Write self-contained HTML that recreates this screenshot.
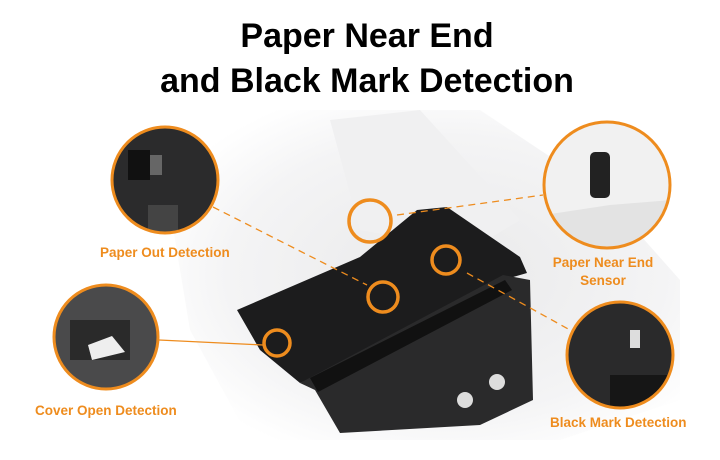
<!DOCTYPE html>
<html><head><meta charset="utf-8"><style>
html,body{margin:0;padding:0;background:#fff;}
body{width:720px;height:460px;overflow:hidden;position:relative;font-family:"Liberation Sans",sans-serif;}
.t{position:absolute;left:0;width:734px;text-align:center;font-weight:bold;font-size:34px;color:#000;}
.l{position:absolute;color:#ee8c1e;font-weight:bold;font-size:13.5px;white-space:nowrap;}
</style></head><body>
<svg width="720" height="460" style="position:absolute;left:0;top:0">
<defs>
<radialGradient id="bg" cx="0.55" cy="0.5" r="0.6"><stop offset="0" stop-color="#e9e9ea"/><stop offset="0.7" stop-color="#f4f4f5"/><stop offset="1" stop-color="#fff"/></radialGradient>
<clipPath id="c1"><circle cx="165" cy="180" r="53"/></clipPath>
<clipPath id="c2"><circle cx="106" cy="337" r="52"/></clipPath>
<clipPath id="c3"><circle cx="607" cy="185" r="63"/></clipPath>
<clipPath id="c4"><circle cx="620" cy="355" r="53"/></clipPath>
</defs>
<polygon points="160,150 260,110 480,110 600,190 680,280 680,400 560,440 250,440 190,330" fill="url(#bg)"/>
<polygon points="330,120 420,110 520,220 470,250 360,230" fill="#f0f0f1"/>
<polygon points="237,310 360,257 417,210 447,207 520,257 527,273 503,280 330,370 300,383 260,350" fill="#1c1c1d"/>
<polygon points="300,383 503,275 530,280 533,400 480,425 340,433 315,390" fill="#2a2a2b"/>
<polygon points="310,378 505,280 512,290 318,392" fill="#111"/>
<circle cx="497" cy="382" r="8" fill="#ddd"/><circle cx="465" cy="400" r="8" fill="#ddd"/>
<g stroke="#ee8c1e" stroke-width="1.3" fill="none">
<line x1="213" y1="207" x2="367" y2="285" stroke-dasharray="7,5"/>
<line x1="397" y1="215" x2="543" y2="195" stroke-dasharray="7,5"/>
<line x1="467" y1="273" x2="570" y2="330" stroke-dasharray="7,5"/>
<line x1="159" y1="340" x2="263" y2="345"/>
</g>
<g stroke="#ee8c1e" stroke-width="3.5" fill="none">
<circle cx="370" cy="221" r="21"/>
<circle cx="446" cy="260" r="14"/>
<circle cx="383" cy="297" r="15"/>
<circle cx="277" cy="343" r="13"/>
</g>
<g clip-path="url(#c1)"><rect x="100" y="120" width="130" height="120" fill="#2b2b2c"/><rect x="128" y="150" width="22" height="30" fill="#111"/><rect x="150" y="155" width="12" height="20" fill="#666"/><rect x="148" y="205" width="30" height="28" fill="#444"/></g>
<g clip-path="url(#c2)"><rect x="50" y="280" width="120" height="120" fill="#4a4a4b"/><rect x="70" y="320" width="60" height="40" fill="#2a2a2a"/><polygon points="88,345 112,336 125,352 92,360" fill="#eee"/></g>
<g clip-path="url(#c3)"><rect x="540" y="120" width="135" height="130" fill="#f1f1f1"/><rect x="590" y="152" width="20" height="46" rx="5" fill="#222"/><polygon points="544,215 610,205 672,200 672,250 544,250" fill="#e3e3e3"/></g>
<g clip-path="url(#c4)"><rect x="565" y="300" width="110" height="110" fill="#2a2a2b"/><rect x="630" y="330" width="10" height="18" fill="#ddd"/><rect x="610" y="375" width="70" height="35" fill="#161616"/></g>
<g stroke="#ee8c1e" stroke-width="3" fill="none">
<circle cx="165" cy="180" r="53"/>
<circle cx="106" cy="337" r="52"/>
<circle cx="607" cy="185" r="63"/>
<circle cx="620" cy="355" r="53"/>
</g>
</svg>
<div class="t" style="top:17px">Paper Near End</div>
<div class="t" style="top:62px">and Black Mark Detection</div>
<div class="l" style="left:100px;top:245px">Paper Out Detection</div>
<div class="l" style="left:546px;top:254px;width:114px;text-align:center;line-height:18px">Paper Near End<br>Sensor</div>
<div class="l" style="left:35px;top:403px">Cover Open Detection</div>
<div class="l" style="left:550px;top:415px">Black Mark Detection</div>
</body></html>
